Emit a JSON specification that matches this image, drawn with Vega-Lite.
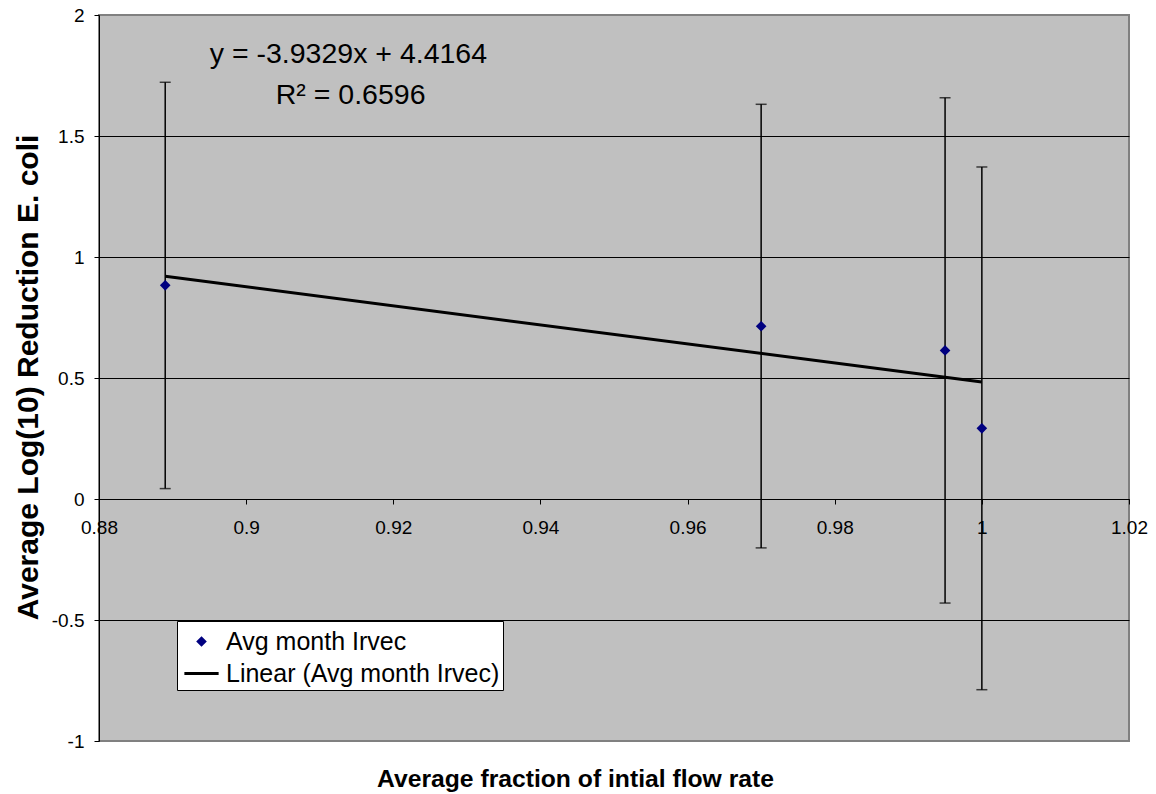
{
  "$schema": "https://vega.github.io/schema/vega-lite/v6.json",
  "width": 1030,
  "height": 726,
  "autosize": "none",
  "padding": {"left": 99, "top": 15, "right": 27, "bottom": 53},
  "background": "white",
  "config": {
    "font": "Liberation Sans",
    "view": {"fill": "#C0C0C0", "stroke": "#808080", "strokeWidth": 2},
    "axis": {
      "domainColor": "black",
      "domainWidth": 1,
      "tickColor": "black",
      "tickSize": 5,
      "labelColor": "black",
      "labelFont": "Liberation Sans",
      "labelFontSize": 19,
      "labelExpr": "replace(datum.label, '\u2212', '-')",
      "titleColor": "black",
      "titleFont": "Liberation Sans",
      "titleFontWeight": "bold",
      "labelFlush": false,
      "labelOverlap": false,
      "labelBound": false
    },
    "legend": {
      "orient": "none",
      "legendX": 78,
      "legendY": 606,
      "fillColor": "white",
      "strokeColor": "black",
      "strokeWidth": 1,
      "padding": 3,
      "labelFont": "Liberation Sans",
      "labelFontSize": 25,
      "labelColor": "black",
      "labelLimit": 0,
      "labelOffset": 7,
      "symbolOffset": 4,
      "symbolSize": 1024,
      "symbolStrokeWidth": 3,
      "rowPadding": 1,
      "title": null
    }
  },
  "datasets": {
    "means": [
      {"flow": 0.889, "logred": 0.883, "lo": 0.043, "hi": 1.722, "series": "Avg month Irvec"},
      {"flow": 0.970, "logred": 0.714, "lo": -0.202, "hi": 1.631, "series": "Avg month Irvec"},
      {"flow": 0.995, "logred": 0.614, "lo": -0.430, "hi": 1.658, "series": "Avg month Irvec"},
      {"flow": 1.000, "logred": 0.292, "lo": -0.788, "hi": 1.372, "series": "Avg month Irvec"}
    ],
    "trend": [
      {"flow": 0.889, "logred": 0.9200, "series": "Linear (Avg month Irvec)"},
      {"flow": 1.000, "logred": 0.4835, "series": "Linear (Avg month Irvec)"}
    ]
  },
  "layer": [
    {
      "data": {"name": "means"},
      "mark": {"type": "errorbar", "color": "black", "thickness": 1.5, "ticks": {"size": 11}},
      "encoding": {
        "x": {
          "field": "flow",
          "type": "quantitative",
          "scale": {"domain": [0.88, 1.02], "nice": false, "zero": false},
          "axis": {
            "values": [0.88, 0.9, 0.92, 0.94, 0.96, 0.98, 1, 1.02],
            "format": "~g",
            "offset": -242,
            "grid": false,
            "labelPadding": 14,
            "title": "Average fraction of intial flow rate",
            "titleFontSize": 24.7,
            "titleX": 476,
            "titleY": 287,
            "titleAlign": "center",
            "titleBaseline": "alphabetic"
          }
        },
        "y": {
          "field": "lo",
          "type": "quantitative",
          "scale": {"domain": [-1, 2], "nice": false, "zero": false},
          "axis": {
            "values": [-1, -0.5, 0, 0.5, 1, 1.5, 2],
            "format": "~g",
            "grid": true,
            "gridColor": {"condition": {"test": "datum.value === 2 || datum.value === -1", "value": "transparent"}, "value": "black"},
            "gridWidth": 1,
            "labelPadding": 10,
            "title": "Average Log(10) Reduction E. coli",
            "titleFontSize": 30,
            "titleAngle": 270,
            "titleX": -71,
            "titleY": 362,
            "titleAlign": "center",
            "titleBaseline": "middle"
          }
        },
        "y2": {"field": "hi"}
      }
    },
    {
      "data": {"name": "trend"},
      "mark": {"type": "line", "strokeWidth": 3},
      "encoding": {
        "x": {"field": "flow", "type": "quantitative"},
        "y": {"field": "logred", "type": "quantitative"},
        "color": {
          "field": "series",
          "type": "nominal",
          "scale": {"domain": ["Avg month Irvec", "Linear (Avg month Irvec)"], "range": ["#000080", "black"]}
        }
      }
    },
    {
      "data": {"name": "means"},
      "mark": {"type": "point", "filled": true, "size": 1024, "opacity": 1, "stroke": "#000080", "strokeWidth": 3, "strokeJoin": "miter"},
      "encoding": {
        "x": {"field": "flow", "type": "quantitative"},
        "y": {"field": "logred", "type": "quantitative"},
        "color": {
          "field": "series",
          "type": "nominal",
          "scale": {"domain": ["Avg month Irvec", "Linear (Avg month Irvec)"], "range": ["#000080", "black"]},
          "legend": {
            "symbolStrokeWidth": 3,
            "encode": {
              "symbols": {
                "update": {
                  "fill": {"scale": "color", "field": "value"},
                  "stroke": {"scale": "color", "field": "value"},
                  "shape": {"scale": "shape", "field": "value"},
                  "opacity": {"value": 1}
                }
              }
            }
          }
        },
        "shape": {
          "field": "series",
          "type": "nominal",
          "scale": {
            "domain": ["Avg month Irvec", "Linear (Avg month Irvec)"],
            "range": ["M0,-0.2L0.2,0L0,0.2L-0.2,0Z", "M-1.07,0H1.07"]
          }
        }
      }
    },
    {
      "data": {"values": [{}]},
      "mark": {"type": "text", "font": "Liberation Sans", "fontSize": 28.5, "color": "black", "align": "center", "baseline": "alphabetic"},
      "encoding": {
        "x": {"datum": 0.9139, "type": "quantitative"},
        "y": {"datum": 1.80, "type": "quantitative"},
        "text": {"value": "y = -3.9329x + 4.4164"}
      }
    },
    {
      "data": {"values": [{}]},
      "mark": {"type": "text", "font": "Liberation Sans", "fontSize": 28.5, "color": "black", "align": "center", "baseline": "alphabetic"},
      "encoding": {
        "x": {"datum": 0.9142, "type": "quantitative"},
        "y": {"datum": 1.632, "type": "quantitative"},
        "text": {"value": "R² = 0.6596"}
      }
    }
  ]
}
